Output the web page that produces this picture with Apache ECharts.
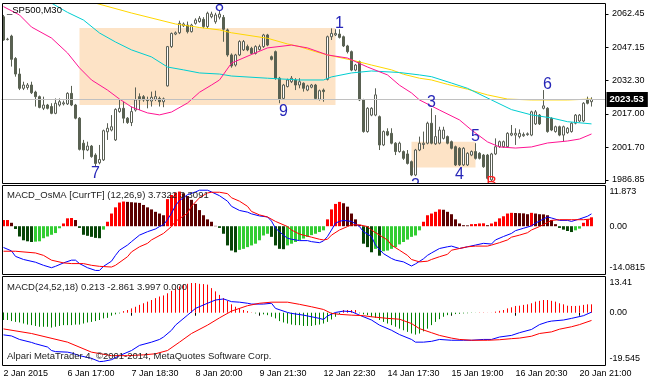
<!DOCTYPE html>
<html><head><meta charset="utf-8">
<script src="https://cdn.jsdelivr.net/npm/echarts@6/dist/echarts.min.js"></script>
<style>html,body{margin:0;padding:0;background:#fff}#c{width:648px;height:383px}</style>
</head><body><div id="c"></div>
<script>
// ---------------- DATA ----------------
const timeLabels = ['2 Jan 2015','6 Jan 17:00','7 Jan 18:30','8 Jan 20:00','9 Jan 21:30','12 Jan 22:30','14 Jan 17:30','15 Jan 19:00','16 Jan 20:30','20 Jan 21:00'];
const LABEL_STEP = 16;
// candles: [open, close, low, high]
const candles = [
[2061.2,2050.6,2050.3,2062.0],[2050.8,2051.0,2050.4,2051.6],[2052.4,2041.8,2038.5,2053.0],[2042.2,2035.1,2033.9,2042.8],[2035.1,2028.6,2027.8,2037.7],
[2028.6,2030.1,2027.8,2031.6],[2029.0,2030.1,2028.0,2031.0],[2030.1,2026.6,2026.0,2031.6],[2026.9,2024.8,2020.3,2027.5],[2024.8,2019.9,2019.5,2025.3],
[2019.5,2021.0,2018.7,2024.8],[2021.0,2019.5,2019.0,2021.5],[2020.3,2017.2,2016.8,2021.8],[2017.2,2021.8,2016.8,2024.0],[2021.0,2022.5,2020.3,2024.0],
[2021.5,2022.0,2020.8,2023.0],[2021.5,2026.3,2021.0,2026.8],[2026.3,2021.0,2020.5,2029.7],[2021.0,2015.0,2014.5,2021.5],[2015.0,2000.8,2000.3,2015.5],
[2003.6,2000.5,1996.3,2005.1],[2000.5,2002.3,2000.0,2004.3],[2002.3,1997.5,1997.0,2002.8],[1998.2,1994.4,1992.9,1999.0],[1994.7,1996.2,1994.0,2002.8],
[1996.0,2009.3,1995.5,2009.8],[2008.8,2010.4,2005.1,2012.7],[2009.6,2011.1,2009.0,2016.4],[2005.1,2019.0,2004.6,2019.5],[2018.0,2019.5,2017.5,2023.3],
[2019.5,2015.0,2012.7,2022.5],[2015.0,2013.0,2012.4,2015.5],[2013.0,2018.0,2011.4,2020.3],[2018.7,2023.3,2018.0,2029.0],[2024.8,2023.3,2018.7,2026.3],
[2024.8,2023.3,2022.5,2025.5],[2023.3,2023.0,2019.5,2024.8],[2022.8,2024.5,2020.3,2027.1],[2023.6,2024.8,2022.8,2027.5],[2024.0,2022.5,2020.3,2024.8],
[2022.5,2023.8,2020.0,2024.4],[2029.7,2047.6,2029.4,2047.9],[2047.6,2053.6,2047.0,2054.0],[2053.3,2053.9,2052.8,2054.5],[2053.9,2058.2,2053.3,2059.4],
[2057.1,2057.9,2056.5,2058.6],[2057.4,2054.4,2053.6,2059.0],[2054.4,2057.4,2054.0,2058.0],[2058.2,2059.7,2057.6,2060.5],[2059.0,2060.5,2058.5,2061.5],
[2060.0,2056.7,2056.0,2061.0],[2056.7,2062.8,2056.0,2063.5],[2061.2,2062.4,2060.5,2063.5],[2058.9,2062.0,2058.0,2063.0],[2061.0,2062.4,2060.0,2064.0],
[2060.9,2055.5,2049.8,2062.0],[2055.2,2043.8,2043.0,2055.8],[2043.8,2038.8,2038.0,2044.5],[2039.2,2043.8,2038.5,2044.3],[2043.8,2049.9,2043.3,2050.5],
[2046.1,2049.9,2045.6,2050.6],[2047.6,2046.1,2045.5,2048.5],[2046.8,2044.5,2044.0,2047.5],[2044.5,2047.6,2044.0,2048.2],[2046.3,2047.6,2045.8,2048.5],
[2047.6,2052.9,2047.0,2053.4],[2052.9,2048.3,2047.8,2053.4],[2043.0,2041.8,2041.3,2043.5],[2045.3,2033.2,2032.5,2045.8],[2033.2,2023.6,2021.8,2033.8],
[2024.0,2030.1,2023.5,2030.6],[2029.4,2032.4,2029.0,2033.0],[2031.6,2033.2,2031.0,2034.2],[2032.4,2030.1,2027.8,2033.2],[2030.1,2031.6,2028.6,2033.2],
[2030.9,2028.6,2027.1,2031.3],[2027.8,2029.7,2027.3,2030.2],[2029.1,2030.1,2028.6,2030.6],[2030.1,2024.0,2023.5,2030.6],[2023.6,2027.5,2023.0,2028.0],
[2027.8,2027.1,2022.5,2028.5],[2032.7,2052.1,2032.2,2052.6],[2052.1,2053.6,2050.6,2055.9],[2052.9,2053.6,2052.4,2055.5],[2053.3,2051.8,2051.3,2055.5],
[2052.1,2047.9,2047.4,2052.6],[2047.9,2045.3,2044.5,2048.4],[2045.3,2036.9,2036.4,2045.8],[2036.9,2039.2,2036.4,2039.7],[2040.7,2023.3,2022.8,2041.2],
[2023.3,2008.9,2008.4,2023.8],[2008.9,2019.5,2008.4,2020.0],[2016.4,2019.5,2015.9,2020.0],[2016.4,2025.6,2015.9,2028.6],[2015.7,2002.8,2000.5,2016.2],
[2002.8,2008.9,2002.3,2009.4],[2008.9,2007.3,2006.8,2010.4],[2008.1,2003.6,2003.1,2010.4],[2003.6,1999.8,1998.2,2004.1],[1999.8,2003.6,1999.3,2004.3],
[1999.8,1996.7,1996.0,2000.3],[1998.7,1994.4,1993.9,2000.5],[1995.2,1989.1,1988.6,1995.7],[1989.1,2000.5,1988.6,2001.0],[2000.5,2003.6,2000.0,2006.6],
[2003.0,2003.6,2001.0,2008.9],[2003.6,2012.7,2003.1,2013.4],[2012.7,2003.6,2003.1,2019.5],[2003.3,2006.6,2002.8,2016.4],[2003.6,2009.6,2003.1,2011.1],
[2005.8,2009.6,2005.3,2011.1],[2006.6,2003.6,2003.1,2007.1],[2004.3,2001.3,2000.8,2004.8],[2002.0,1993.7,1993.2,2002.5],[2001.3,1993.7,1993.2,2001.8],
[1993.7,2001.3,1993.2,2001.8],[1993.7,1999.0,1993.2,1999.5],[1998.2,1999.8,1997.7,2000.3],[1999.8,1996.7,1996.2,2003.6],[1999.0,1996.7,1996.2,1999.5],
[1998.2,1992.9,1992.4,1998.7],[1998.2,1987.6,1987.1,1998.7],[1986.9,1998.7,1986.4,1999.2],[1998.7,2002.0,1998.2,2005.8],[2002.0,2004.3,2001.5,2004.8],
[2002.0,2004.3,2001.5,2004.8],[2002.0,2008.1,2001.5,2008.6],[2007.3,2008.1,2006.8,2011.9],[2007.3,2008.1,2002.8,2010.4],[2006.6,2008.1,2005.8,2009.9],
[2007.0,2007.6,2006.5,2008.5],[2007.5,2007.9,2007.0,2008.5],[2007.3,2017.9,2006.8,2018.4],[2012.4,2017.9,2011.9,2018.7],[2016.4,2012.4,2011.9,2016.9],
[2019.5,2020.6,2019.0,2027.8],[2019.5,2008.9,2008.4,2020.0],[2014.9,2009.6,2009.1,2015.4],[2008.9,2011.1,2008.4,2011.6],[2011.1,2007.3,2006.8,2011.6],
[2007.3,2011.1,2004.3,2011.6],[2008.4,2010.4,2007.9,2010.9],[2008.9,2012.7,2008.4,2013.2],[2012.7,2016.4,2012.2,2016.9],[2013.7,2016.4,2013.2,2016.9],
[2013.7,2021.8,2013.2,2022.3],[2023.6,2021.8,2021.3,2024.8],[2022.5,2023.53,2020.3,2024.5]
];
// moving averages: [bar index, price]
const maYellow = [[18,2069.5],[23,2067.4],[32,2062.9],[43,2057.9],[49,2056.3],[54,2055.2],[57,2053.9],[66,2051.4],[71,2048.8],[74,2047.6],[78,2045.3],[81,2043.8],[87,2041.5],[92,2039.2],[97,2037.0],[100,2035.0],[104,2033.2],[107,2032.4],[111,2030.4],[116,2028.2],[121,2025.6],[126,2023.7],[132,2023.3],[141,2023.3],[147,2023.7]];
const maCyan = [[11,2068.2],[12,2067.4],[16,2063.2],[20,2059.7],[24,2053.8],[28,2049.7],[32,2046.1],[37,2042.9],[41,2038.3],[45,2037.0],[49,2035.6],[54,2035.1],[57,2034.2],[66,2033.2],[74,2032.4],[80,2032.4],[82,2033.8],[87,2035.6],[92,2036.5],[99,2035.8],[104,2034.7],[107,2033.9],[112,2031.0],[116,2028.6],[122,2023.3],[127,2018.9],[132,2016.5],[137,2015.1],[141,2013.4],[147,2012.4]];
const maMagenta = [[0,2065.8],[4,2062.0],[7,2056.5],[12,2051.5],[16,2044.7],[19,2037.9],[22,2032.4],[26,2027.8],[29,2023.7],[32,2020.1],[36,2017.4],[39,2016.5],[42,2017.8],[46,2021.9],[49,2026.8],[52,2030.1],[54,2032.4],[57,2040.1],[62,2044.0],[66,2047.0],[72,2048.3],[76,2047.0],[81,2043.8],[86,2042.4],[91,2038.3],[96,2034.7],[99,2030.0],[102,2026.5],[104,2023.3],[109,2018.7],[114,2014.2],[117,2009.6],[121,2004.2],[124,2001.9],[128,2001.4],[132,2001.9],[136,2003.7],[141,2004.6],[144,2005.5],[147,2007.8]];
// rectangles: [fromBar, topPrice, toBar, bottomPrice]
const boxes = [[19,2056.1,83,2021.0],[102,2004.3,118,1992.5]];
// wave labels
const waveText = ['7','8','9','1','2','3','4','5','6','B'];
const waveAt = [[23,1989.9],[54,2066.0],[70,2018.0],[84,2058.2],[103,1984.2],[107,2022.2],[114,1989.3],[118,2006.5],[136,2030.1],[122,1985.0]];
// price scale
const tickMain = [2062.45,2047.15,2032.30,2017.00,2001.70,1986.85];
const tickMainText = ['2062.45','2047.15','2032.30','2017.00','2001.70','1986.85'];
// MACD_OsMA pane
const osmaScale = [11.873,0,-14.0815];
const osmaScaleText = ['11.873','0.00','-14.0815'];
const osma = [1.8,1.8,1.0,-0.8,-3.0,-4.1,-4.4,-4.6,-4.5,-4.4,-3.5,-3.0,-2.5,-2.0,-0.6,0.8,2.3,2.4,1.8,-0.5,
-2.5,-2.8,-3.1,-3.4,-3.5,-1.0,1.3,3.7,5.5,6.9,7.2,7.1,7.0,6.9,6.8,6.2,5.5,4.9,4.2,3.7,
3.2,7.9,9.1,9.8,10.1,9.6,8.8,7.7,6.5,4.7,3.2,2.0,1.3,0.1,-0.5,-2.2,-5.6,-7.1,-7.6,-6.9,
-6.6,-6.1,-5.6,-5.1,-4.1,-2.7,-2.2,-3.1,-5.6,-6.6,-6.7,-5.6,-5.1,-4.6,-4.1,-3.6,-3.1,-2.6,-2.2,-1.7,
-1.2,2.0,4.9,6.5,7.1,6.7,5.7,3.7,2.0,0.4,-5.1,-6.1,-7.6,-6.6,-8.6,-7.3,-7.1,-6.6,-6.1,-5.3,
-4.6,-3.9,-3.1,-2.7,-1.2,1.3,3.2,3.7,4.2,4.9,4.8,4.2,3.5,2.0,0.8,0.3,0.25,0.6,0.65,0.8,
0.85,0.3,0.8,1.3,2.3,2.9,3.7,3.9,3.85,3.8,3.75,3.5,3.9,3.7,3.5,3.45,3.2,1.8,0.6,-0.5,
-1.0,-1.4,-1.7,-1.2,-0.7,1.0,2.0,2.6];
const osmaBlue = [[0,-6.2],[2,-7.2],[3,-8.8],[5,-9.7],[8,-10.5],[10,-11.4],[12,-12.1],[13,-11.7],[15,-10.7],[17,-9.9],[18,-9.9],[19,-10.9],[21,-12.1],[23,-12.9],[24,-12.9],[25,-11.7],[27,-10.2],[28,-8.5],[29,-7.0],[31,-5.5],[32,-4.5],[34,-2.6],[36,-1.6],[38,-0.8],[39,-0.1],[40,0.4],[41,1.9],[42,3.8],[43,6.0],[44,7.5],[45,8.3],[46,9.2],[48,10.0],[49,10.5],[51,10.5],[52,10.0],[54,8.9],[56,7.3],[57,5.8],[59,4.6],[61,4.1],[62,3.6],[64,3.0],[66,2.7],[67,1.5],[68,-0.6],[70,-2.6],[71,-3.5],[72,-3.8],[74,-4.2],[76,-4.2],[77,-4.5],[79,-4.8],[80,-4.3],[81,-3.0],[82,-1.1],[83,0.9],[84,1.4],[85,1.7],[87,1.4],[88,0.7],[89,-0.1],[90,-1.6],[92,-3.0],[93,-5.5],[95,-8.0],[97,-9.4],[98,-9.9],[100,-10.4],[102,-11.6],[103,-11.0],[105,-9.5],[106,-8.5],[107,-7.8],[109,-6.5],[111,-6.0],[112,-5.8],[114,-6.5],[116,-6.0],[118,-5.5],[120,-5.0],[122,-5.2],[123,-4.0],[125,-3.0],[127,-2.1],[128,-1.3],[130,-0.6],[132,0.1],[133,0.9],[135,2.1],[136,2.7],[137,2.4],[139,1.7],[141,1.7],[142,1.4],[144,2.1],[146,2.9],[147,3.6]];
const osmaRed = [[0,-7.3],[3,-7.3],[8,-7.8],[10,-8.5],[12,-9.9],[15,-10.7],[17,-10.9],[20,-10.9],[22,-11.4],[24,-11.7],[27,-11.9],[28,-11.4],[31,-8.9],[32,-7.5],[34,-6.0],[36,-5.0],[37,-4.0],[40,-2.1],[42,-0.1],[43,1.4],[46,3.8],[47,5.8],[49,8.3],[51,9.7],[52,9.9],[54,9.9],[56,9.5],[57,8.3],[59,7.3],[61,5.8],[62,4.3],[64,3.3],[66,2.7],[68,1.4],[71,-0.1],[72,-1.1],[74,-2.3],[76,-2.9],[77,-3.2],[79,-3.8],[80,-4.0],[81,-3.8],[82,-2.6],[84,-1.1],[86,-0.1],[87,0.4],[89,0.4],[91,-0.1],[92,-1.1],[94,-2.6],[96,-4.0],[97,-5.5],[99,-7.0],[101,-8.5],[102,-9.7],[104,-10.4],[106,-10.2],[107,-9.7],[109,-8.9],[111,-8.2],[112,-7.0],[114,-6.5],[116,-6.0],[118,-5.8],[121,-5.8],[122,-5.5],[124,-4.8],[126,-4.0],[127,-3.2],[129,-2.6],[131,-1.9],[132,-1.1],[134,-0.1],[136,1.1],[137,1.7],[139,1.9],[142,1.9],[145,1.9],[147,2.1]];
// MACD(24,52,18) pane
const macdScale = [13.41,0,-19.545];
const macdScaleText = ['13.41','0.00','-19.545'];
const macdHist = [-2.7,-2.7,-3.1,-3.4,-3.6,-4.0,-4.4,-4.6,-4.9,-5.2,-5.2,-5.2,-5.5,-5.2,-4.9,-4.6,-4.6,-4.6,-4.4,-4.4,
-4.0,-3.6,-3.4,-3.1,-2.7,-2.1,-1.9,-1.1,-0.6,-0.25,0.6,1.0,1.6,2.2,2.9,3.5,4.1,4.7,5.4,6.0,
6.4,7.2,8.1,8.9,9.7,10.4,10.7,11.0,11.0,10.7,10.6,10.4,9.1,7.9,6.6,5.4,4.4,3.1,2.2,1.6,
1.0,0.6,0.12,-0.25,-0.25,-0.6,-0.9,-1.5,-2.1,-3.1,-3.6,-4.0,-4.4,-4.6,-4.6,-4.9,-4.9,-4.9,-4.6,-4.4,
-4.0,-3.4,-2.5,-1.5,-0.5,1.0,1.0,1.0,1.0,-0.2,-0.6,-0.9,-1.5,-1.9,-2.7,-3.4,-4.0,-4.6,-5.2,-5.9,
-6.5,-7.1,-7.7,-8.1,-7.7,-6.9,-5.9,-4.6,-3.4,-2.4,-1.5,-0.9,-0.6,-0.5,-0.4,-0.25,-0.2,-0.1,-0.05,0.1,
0.1,0.05,0.05,0.4,0.7,1.0,1.6,2.0,2.5,2.6,2.9,3.1,3.5,4.1,4.4,4.7,4.7,4.4,4.1,3.5,
3.1,2.6,2.5,2.5,2.6,2.9,3.1,3.1];
const macdBlue = [[0,-8.2],[2,-8.6],[4,-9.9],[7,-11.0],[8,-11.5],[11,-12.7],[12,-14.0],[13,-14.4],[16,-14.6],[17,-14.9],[19,-15.9],[22,-16.9],[24,-18.1],[25,-18.0],[27,-17.4],[29,-15.9],[32,-14.0],[34,-12.1],[37,-10.9],[39,-9.9],[40,-9.0],[42,-6.5],[43,-4.6],[46,-0.9],[48,1.6],[51,3.5],[53,4.7],[55,5.1],[56,4.6],[57,4.1],[59,3.9],[61,3.5],[62,3.2],[65,3.2],[67,3.5],[68,1.6],[71,0.1],[72,-0.25],[75,-0.9],[77,-1.5],[79,-2.1],[80,-2.5],[81,-1.2],[83,0.1],[85,0.6],[87,0.4],[89,-0.9],[92,-2.7],[94,-4.6],[97,-6.5],[99,-8.1],[102,-9.9],[103,-10.9],[105,-10.9],[107,-10.6],[109,-9.9],[112,-10.2],[115,-10.2],[117,-10.2],[120,-9.9],[122,-9.9],[124,-9.0],[127,-8.4],[129,-7.4],[132,-6.2],[134,-4.4],[136,-3.4],[137,-3.1],[140,-2.7],[142,-2.1],[145,-1.1],[147,0.213]];
const macdRed = [[0,-6.0],[7,-7.7],[16,-10.9],[22,-14.6],[27,-15.9],[31,-15.9],[35,-15.6],[38,-15.2],[41,-14.0],[44,-10.9],[47,-7.7],[51,-4.6],[54,-1.9],[57,0.6],[61,2.6],[64,3.5],[67,3.9],[71,3.9],[74,3.1],[77,2.2],[80,1.2],[82,-0.25],[84,-0.6],[87,-0.9],[90,-1.1],[92,-1.5],[96,-2.1],[99,-2.4],[102,-4.0],[104,-5.9],[107,-7.4],[109,-8.4],[112,-9.4],[114,-9.9],[117,-10.2],[121,-10.2],[124,-10.0],[127,-9.6],[129,-9.4],[132,-8.7],[134,-7.7],[137,-7.1],[139,-6.1],[142,-5.2],[144,-4.4],[147,-2.861]];
const titleMain = '_SP500,M30';
const titleOsma = 'MACD_OsMA [CurrTF] (12,26,9) 3.7322 3.3091';
const titleMacd = 'MACD(24,52,18) 0.213 -2.861 3.997 0.000';
const copyright = 'Alpari MetaTrader 4, \u00a92001-2014, MetaQuotes Software Corp.';

// ---------------- CHART ----------------
const F = '"Liberation Sans", Arial, sans-serif';
const NCAT = 151;
const cats = Array.from({length: NCAT}, (_, i) => String(i));
const lastPrice = candles[candles.length - 1][1];
const lookup = (v, vals, txt) => { for (let k = 0; k < vals.length; k++) if (Math.abs(v - vals[k]) < 1e-6) return txt[k]; return ''; };
const RED = '#ff0000', MAROON = '#5c0000', LGREEN = '#32cd32', DGREEN = '#074507';
const osmaColor = osma.map((v, i) => {
  const prev = i > 0 ? osma[i - 1] : v;
  if (v >= 0) return (v >= prev) ? RED : MAROON;
  return (v > prev) ? LGREEN : DGREEN;
});
const G = { left: 1.5, width: 604 };
const subAxis = (gi, vals, txt) => ({
  type: 'value', gridIndex: gi, position: 'right', min: vals[2], max: vals[0],
  splitLine: {show: false}, axisLine: {show: false}, axisTick: {show: false},
  axisLabel: {
    customValues: vals, showMinLabel: true, showMaxLabel: true, margin: 4,
    fontSize: 9, fontFamily: F, color: '#000',
    formatter: v => { const t = lookup(v, vals, txt); if (Math.abs(v - vals[0]) < 1e-6) return '{t|' + t + '}'; if (Math.abs(v - vals[2]) < 1e-6) return '{b|' + t + '}'; return t; },
    rich: { t: {padding: [13, 0, 0, 0], fontSize: 9, fontFamily: F, color: '#000'}, b: {padding: [0, 0, 13, 0], fontSize: 9, fontFamily: F, color: '#000'} }
  }
});
const lineS = (xi, data, color, z) => ({ type: 'line', xAxisIndex: xi, yAxisIndex: xi, data, showSymbol: false, symbol: 'none', lineStyle: {color, width: 1}, z, silent: true });

const option = {
  animation: false,
  backgroundColor: '#ffffff',
  grid: [
    {left: G.left, width: G.width, top: 3.5, height: 180},
    {left: G.left, width: G.width, top: 185.5, height: 89},
    {left: G.left, width: G.width, top: 276.5, height: 89}
  ],
  xAxis: [
    {type: 'category', gridIndex: 0, data: cats, show: false},
    {type: 'category', gridIndex: 1, data: cats, show: false},
    {type: 'category', gridIndex: 2, data: cats, boundaryGap: true,
     axisLine: {show: false}, splitLine: {show: false},
     axisTick: {show: true, alignWithLabel: true, length: 3, interval: i => i % LABEL_STEP === 0, lineStyle: {color: '#000'}},
     axisLabel: {interval: i => i % LABEL_STEP === 0, align: 'left', margin: 3.5, fontSize: 9, fontFamily: F, color: '#000',
       formatter: (v, idx) => (idx % LABEL_STEP === 0 ? (timeLabels[idx / LABEL_STEP] || '') : '')}}
  ],
  yAxis: [
    {type: 'value', gridIndex: 0, position: 'right', min: 1985.25, max: 2067.23,
     splitLine: {show: false}, axisLine: {show: false},
     axisTick: {show: true, customValues: tickMain, length: 3, lineStyle: {color: '#000'}},
     axisLabel: {customValues: tickMain, margin: 6.5, fontSize: 9, fontFamily: F, color: '#000', formatter: v => lookup(v, tickMain, tickMainText)}},
    subAxis(1, osmaScale, osmaScaleText),
    subAxis(2, macdScale, macdScaleText)
  ],
  series: [
    {type: 'line', xAxisIndex: 0, yAxisIndex: 0, data: [], z: 1, silent: true,
     markArea: {silent: true, itemStyle: {color: '#fde3c6'},
       data: boxes.map(b => [{xAxis: b[0], yAxis: b[1]}, {xAxis: b[2], yAxis: b[3]}])}},
    {type: 'line', xAxisIndex: 0, yAxisIndex: 0, data: [], z: 2, silent: true,
     markLine: {silent: true, symbol: 'none', lineStyle: {color: '#c0c0c0', type: 'solid', width: 1},
       data: [{yAxis: lastPrice}],
       label: {show: true, position: 'end', distance: 1, formatter: lastPrice.toFixed(2), backgroundColor: '#000', color: '#fff',
         padding: [3, 4, 2, 3], fontSize: 9.5, fontWeight: 'bold', fontFamily: F}}},
    {type: 'candlestick', xAxisIndex: 0, yAxisIndex: 0, data: candles, barWidth: 3, z: 3, silent: true,
     itemStyle: {color: '#ffffff', color0: '#596152', borderColor: '#5a5f55', borderColor0: '#596152', borderWidth: 1}},
    lineS(0, maYellow, '#ffd700', 4),
    lineS(0, maCyan, '#00ced1', 4),
    lineS(0, maMagenta, '#ff1493', 4),
    {type: 'custom', xAxisIndex: 0, yAxisIndex: 0, clip: true, z: 6, silent: true,
     data: waveAt.map((p, k) => [p[0], p[1], k]),
     renderItem: (params, api) => {
       const pt = api.coord([api.value(0), api.value(1)]);
       const t = waveText[api.value(2)];
       return {type: 'text', x: pt[0], y: pt[1],
         style: {text: t, fill: t === 'B' ? '#ff2020' : '#2626b8', fontSize: 16, fontFamily: F, align: 'center', verticalAlign: 'middle'}};
     }},
    {type: 'bar', xAxisIndex: 1, yAxisIndex: 1, data: osma, barWidth: 3, z: 2, silent: true,
     itemStyle: {color: p => osmaColor[p.dataIndex]}},
    lineS(1, osmaBlue, '#0000ff', 4),
    lineS(1, osmaRed, '#ff0000', 4),
    {type: 'custom', xAxisIndex: 2, yAxisIndex: 2, z: 2, silent: true, clip: true,
     data: macdHist.map((v, i) => [i, v]),
     renderItem: (params, api) => {
       const v = api.value(1);
       const p0 = api.coord([api.value(0), 0]);
       const p1 = api.coord([api.value(0), v]);
       const x = Math.floor(p0[0]) + 0.5;
       return {type: 'line', shape: {x1: x, y1: p0[1], x2: x, y2: p1[1]},
         style: {stroke: v >= 0 ? '#ff0000' : '#008000', lineWidth: 1}};
     }},
    lineS(2, macdBlue, '#0000ff', 4),
    lineS(2, macdRed, '#ff0000', 4)
  ],
  graphic: [
    {type: 'rect', silent: true, z: 100, shape: {x: 2.5, y: 3.5, width: 603, height: 180}, style: {fill: 'none', stroke: '#000', lineWidth: 1}},
    {type: 'rect', silent: true, z: 100, shape: {x: 2.5, y: 185.5, width: 603, height: 89}, style: {fill: 'none', stroke: '#000', lineWidth: 1}},
    {type: 'rect', silent: true, z: 100, shape: {x: 2.5, y: 276.5, width: 603, height: 89}, style: {fill: 'none', stroke: '#000', lineWidth: 1}},
    {type: 'text', silent: true, z: 101, x: 7, y: 10.5, style: {text: titleMain, fill: '#000', fontSize: 9.5, fontFamily: F, verticalAlign: 'middle'}},
    {type: 'text', silent: true, z: 101, x: 7, y: 195, style: {text: titleOsma, fill: '#222', fontSize: 9.5, fontFamily: F, verticalAlign: 'middle'}},
    {type: 'text', silent: true, z: 101, x: 7, y: 287, style: {text: titleMacd, fill: '#222', fontSize: 9.5, fontFamily: F, verticalAlign: 'middle'}},
    {type: 'text', silent: true, z: 101, x: 7, y: 356.5, style: {text: copyright, fill: '#222', fontSize: 9.5, fontFamily: F, verticalAlign: 'middle'}}
  ]
};
const chart = echarts.init(document.getElementById('c'));
chart.setOption(option);
</script>
</body></html>
